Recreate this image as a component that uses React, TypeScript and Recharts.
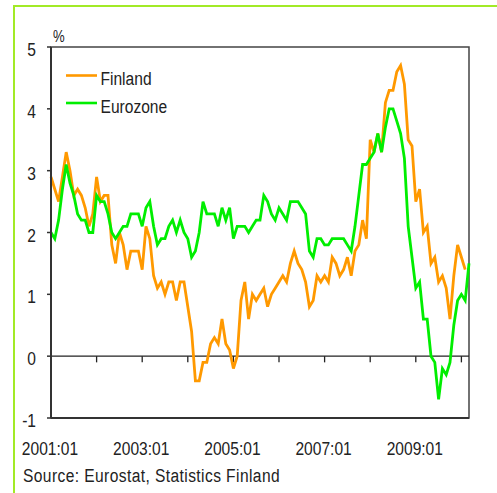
import { LineChart, Line, XAxis, YAxis, ReferenceLine, ReferenceArea } from "recharts";

// monthly, 2001:01 .. 2010:03
const startYear = 2001;
const monthCount = 111;
const months = Array.from({ length: monthCount }, (_, i) => {
  const y = startYear + Math.floor(i / 12);
  const m = (i % 12) + 1;
  return `${y}:${m < 10 ? "0" + m : m}`;
});

const finland = [
  2.9, 2.7, 2.5, 2.9, 3.3, 3.0, 2.6, 2.7, 2.6, 2.4, 2.1, 2.3,
  2.9, 2.5, 2.6, 2.6, 1.8, 1.5, 2.0, 1.8, 1.4, 1.7, 1.7, 1.7,
  1.4, 2.1, 1.9, 1.3, 1.1, 1.2, 1.0, 1.2, 1.2, 0.9, 1.2, 1.2,
  0.8, 0.4, -0.4, -0.4, -0.1, -0.1, 0.2, 0.3, 0.2, 0.6, 0.2, 0.1,
  -0.2, 0.0, 0.9, 1.2, 0.6, 1.0, 0.9, 1.0, 1.1, 0.8, 1.0, 1.1,
  1.2, 1.3, 1.2, 1.5, 1.7, 1.5, 1.4, 1.2, 0.8, 0.9, 1.3, 1.2,
  1.3, 1.2, 1.6, 1.5, 1.3, 1.4, 1.6, 1.3, 1.7, 1.8, 2.2, 1.9,
  3.5, 3.3, 3.6, 3.3, 4.1, 4.3, 4.3, 4.6, 4.7, 4.4, 3.5, 3.4,
  2.5, 2.7, 2.0, 2.1, 1.5, 1.6, 1.2, 1.3, 1.1, 0.6, 1.3, 1.8,
  1.6, 1.4, null,
];

const eurozone = [
  2.0, 1.9, 2.2, 2.7, 3.1, 2.8, 2.6, 2.3, 2.2, 2.2, 2.0, 2.0,
  2.6, 2.5, 2.5, 2.3, 2.0, 1.9, 2.0, 2.1, 2.1, 2.3, 2.3, 2.3,
  2.1, 2.4, 2.5, 2.1, 1.8, 1.9, 1.9, 2.1, 2.2, 2.0, 2.2, 2.0,
  1.9, 1.6, 1.7, 2.0, 2.5, 2.3, 2.3, 2.3, 2.1, 2.4, 2.2, 2.4,
  1.9, 2.1, 2.1, 2.1, 2.0, 2.1, 2.2, 2.2, 2.6, 2.5, 2.3, 2.2,
  2.4, 2.3, 2.2, 2.5, 2.5, 2.5, 2.4, 2.3, 1.7, 1.6, 1.9, 1.9,
  1.8, 1.8, 1.9, 1.9, 1.9, 1.9, 1.8, 1.7, 2.1, 2.6, 3.1, 3.1,
  3.2, 3.3, 3.6, 3.3, 3.7, 4.0, 4.0, 3.8, 3.6, 3.2, 2.1, 1.6,
  1.1, 1.2, 0.6, 0.6, 0.0, -0.1, -0.7, -0.2, -0.3, -0.1, 0.5, 0.9,
  1.0, 0.9, 1.5,
];

const yTicks = [-1, 0, 1, 2, 3, 4, 5];
const labelTicks = [0, 24, 48, 72, 96];
const yearTicks = [0, 12, 24, 36, 48, 60, 72, 84, 96, 108];

const series = [
  { key: "finland", name: "Finland", color: "#ff9900" },
  { key: "eurozone", name: "Eurozone", color: "#00ee00" },
];

const data = months.map((m, i) => ({
  i,
  month: m,
  finland: finland[i],
  eurozone: eurozone[i],
}));

const FONT = "'Liberation Sans', Arial, sans-serif";
const SQUEEZE = 0.82; // the original type is a narrow face

// horizontally condensed text
const Narrow = ({ x, y, size = 19, anchor = "start", spacing = 0, children }: any) => (
  <text
    transform={`translate(${x},${y}) scale(${SQUEEZE},1)`}
    textAnchor={anchor}
    fontFamily={FONT}
    fontSize={size}
    letterSpacing={spacing}
    fill="#222"
  >
    {children}
  </text>
);

const YTick = (props: any) => {
  const { x, y, payload } = props;
  return (
    <Narrow x={x} y={y + 9} anchor="end">
      {payload.value}
    </Narrow>
  );
};

const XTick = (props: any) => {
  const { x, y, payload } = props;
  return (
    <Narrow x={x - 1} y={y + 37} anchor="middle">
      {months[payload.value]}
    </Narrow>
  );
};

export default function App() {
  return (
    <div style={{ position: "absolute", left: 0, top: 0, width: 497, height: 493, background: "#fff", overflow: "hidden" }}>
      <div
        style={{
          position: "absolute",
          left: 13,
          top: 5,
          width: 500,
          height: 500,
          borderTop: "2px solid #a2ea26",
          borderLeft: "2px solid #a2ea26",
        }}
      />
      <LineChart
        width={497}
        height={493}
        data={data}
        margin={{ top: 47, right: 28, left: 11, bottom: 45 }}
        style={{ position: "absolute", left: 0, top: 0 }}
      >
        <ReferenceArea x1={0} x2={110} y1={-1} y2={5} fill="none" stroke="#444" strokeWidth={1.5} />
        <XAxis
          dataKey="i"
          type="number"
          domain={[0, 110]}
          ticks={labelTicks}
          interval={0}
          tickLine={false}
          tickSize={0}
          tickMargin={0}
          height={30}
          axisLine={{ stroke: "#333", strokeWidth: 2 }}
          tick={<XTick />}
        />
        <YAxis
          type="number"
          domain={[-1, 5]}
          ticks={yTicks}
          interval={0}
          width={40}
          tickSize={4}
          tickMargin={11}
          tickLine={{ stroke: "#333", strokeWidth: 1.5 }}
          axisLine={{ stroke: "#333", strokeWidth: 2 }}
          tick={<YTick />}
        />
        <ReferenceLine y={0} stroke="#222" strokeWidth={1.3} />
        {yearTicks.map((t) => (
          <ReferenceLine
            key={t}
            segment={[
              { x: t, y: 0 },
              { x: t, y: -0.1 },
            ]}
            stroke="#222"
            strokeWidth={1.3}
          />
        ))}
        {series.map((s) => (
          <Line
            key={s.key}
            type="linear"
            dataKey={s.key}
            name={s.name}
            stroke={s.color}
            strokeWidth={2.8}
            dot={false}
            connectNulls={false}
            isAnimationActive={false}
          />
        ))}
      </LineChart>
      <svg width={497} height={493} style={{ position: "absolute", left: 0, top: 0, pointerEvents: "none" }}>
        <Narrow x={53} y={41.5} size={16}>
          %
        </Narrow>
        {series.map((s, k) => (
          <g key={s.key}>
            <line x1={66} x2={97} y1={75.5 + k * 27.5} y2={75.5 + k * 27.5} stroke={s.color} strokeWidth={2.6} />
            <Narrow x={100.5} y={84.5 + k * 28}>
              {s.name}
            </Narrow>
          </g>
        ))}
        <Narrow x={23} y={482} spacing={0.5}>
          Source: Eurostat, Statistics Finland
        </Narrow>
      </svg>
    </div>
  );
}
